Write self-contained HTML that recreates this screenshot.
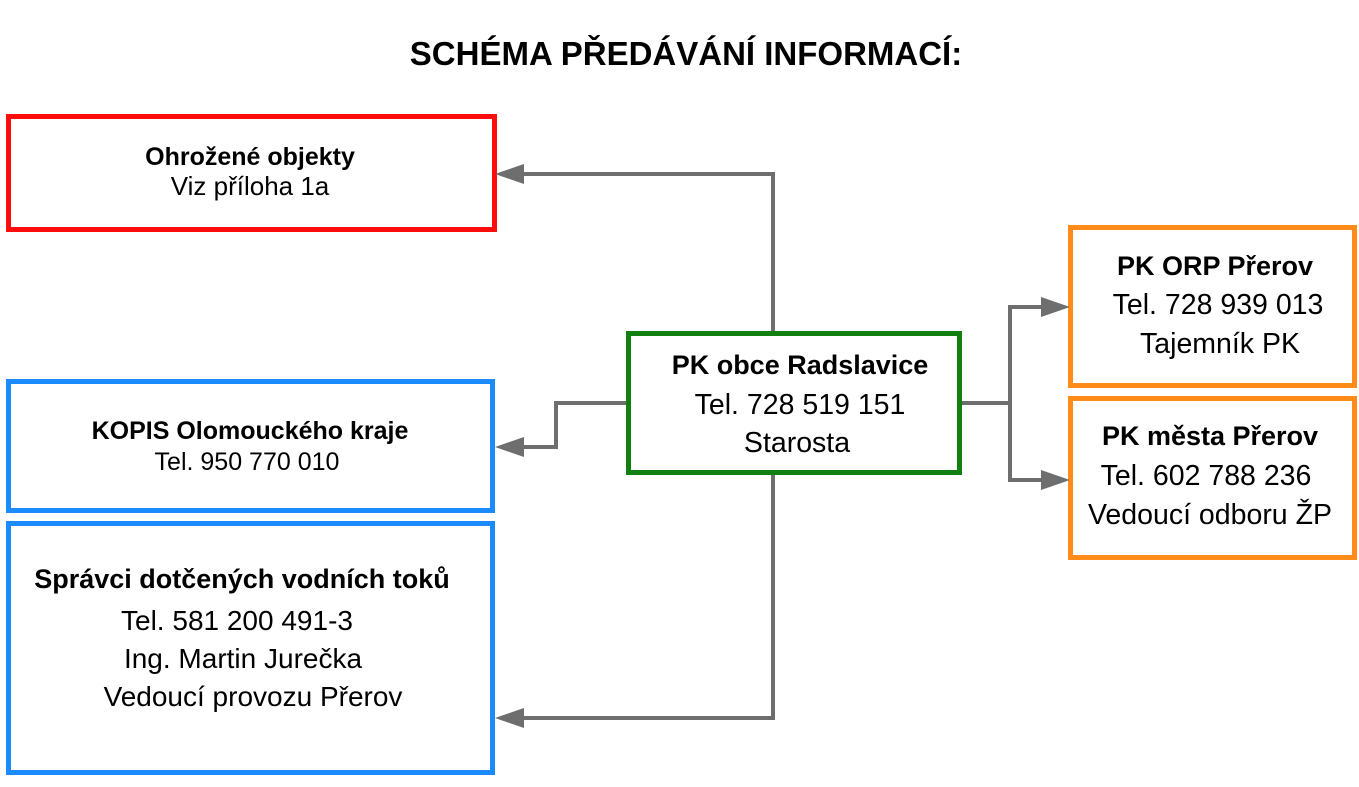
<!DOCTYPE html>
<html><head><meta charset="utf-8"><style>
body{margin:0;width:1359px;height:787px;background:#fff;position:relative;overflow:hidden;font-family:"Liberation Sans",sans-serif;color:#000}
.b{position:absolute;box-sizing:border-box;border:5px solid}
.t{position:absolute;white-space:nowrap;transform:translateX(-50%);line-height:1}
.bd{font-weight:bold}
</style></head><body>
<div class="t bd" style="left:686px;top:37px;font-size:33px">SCHÉMA PŘEDÁVÁNÍ INFORMACÍ:</div>
<div class="b" style="left:6px;top:114px;width:491px;height:118px;border-color:#ff0d0d"></div>
<div class="b" style="left:6px;top:379px;width:489px;height:134px;border-color:#1a8cff"></div>
<div class="b" style="left:6px;top:521px;width:489px;height:254px;border-color:#1a8cff"></div>
<div class="b" style="left:626px;top:331px;width:336px;height:144px;border-color:#118011"></div>
<div class="b" style="left:1068px;top:225px;width:289px;height:163px;border-color:#ff8c1a"></div>
<div class="b" style="left:1068px;top:396px;width:289px;height:164px;border-color:#ff8c1a"></div>
<svg width="1359" height="787" style="position:absolute;left:0;top:0">
<g stroke="#6e6e6e" stroke-width="4" fill="none">
<polyline points="773,331 773,174 520,174"/>
<polyline points="626,403 556,403 556,447 520,447"/>
<polyline points="773,475 773,718 520,718"/>
<polyline points="962,403 1010,403"/>
<polyline points="1046,307 1010,307 1010,480 1046,480"/>
</g>
<g fill="#6e6e6e">
<polygon points="495,174 524,164 524,184"/>
<polygon points="495,447 524,437 524,457"/>
<polygon points="495,718 524,708 524,728"/>
<polygon points="1070,307 1041,297 1041,317"/>
<polygon points="1070,480 1041,470 1041,490"/>
</g>
</svg>
<div class="t bd" style="left:250px;top:145px;font-size:25px">Ohrožené objekty</div>
<div class="t" style="left:250px;top:173px;font-size:26px">Viz příloha 1a</div>
<div class="t bd" style="left:250px;top:419px;font-size:25px">KOPIS Olomouckého kraje</div>
<div class="t" style="left:247px;top:450px;font-size:25px">Tel. 950 770 010</div>
<div class="t bd" style="left:242px;top:566px;font-size:27px">Správci dotčených vodních toků</div>
<div class="t" style="left:237px;top:607px;font-size:28px">Tel. 581 200 491-3</div>
<div class="t" style="left:243px;top:645px;font-size:28px">Ing. Martin Jurečka</div>
<div class="t" style="left:253px;top:683px;font-size:28px">Vedoucí provozu Přerov</div>
<div class="t bd" style="left:800px;top:352px;font-size:27px">PK obce Radslavice</div>
<div class="t" style="left:800px;top:391px;font-size:28.5px">Tel. 728 519 151</div>
<div class="t" style="left:797px;top:429px;font-size:28.5px">Starosta</div>
<div class="t bd" style="left:1215px;top:253px;font-size:27px">PK ORP Přerov</div>
<div class="t" style="left:1218px;top:291px;font-size:28.5px">Tel. 728 939 013</div>
<div class="t" style="left:1220px;top:330px;font-size:28.5px">Tajemník PK</div>
<div class="t bd" style="left:1210px;top:423px;font-size:27px">PK města Přerov</div>
<div class="t" style="left:1206px;top:462px;font-size:28.5px">Tel. 602 788 236</div>
<div class="t" style="left:1210px;top:501px;font-size:28.5px">Vedoucí odboru ŽP</div>
</body></html>
